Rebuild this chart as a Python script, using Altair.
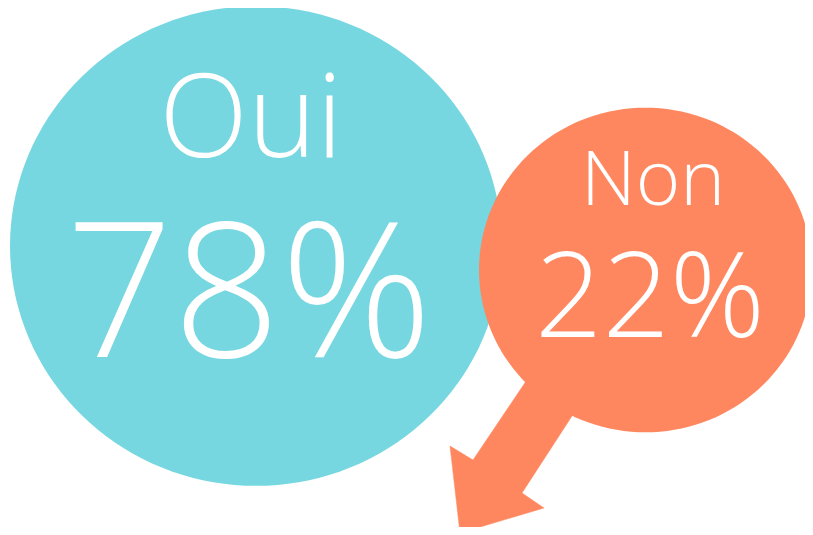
import math
import altair as alt
import pandas as pd

# ---- data ----
categories = ["Oui", "Non"]
values = [78, 22]
colors = ["#76D7E0", "#FF8760"]

# ---- layout (page pixel coordinates) ----
cx = [256, 645.5]
cy = [246, 270]
radius_x = [246, 166.5]
label_y = [157, 205]
label_x = [251, 653]
label_size = [116, 76]
pct_y = [357, 337]
pct_x = [249, 650]
pct_size = [188, 118]

arrow_x = [551, 473, 450, 460, 544, 522, 598, 551]
arrow_y = [344, 460, 446, 533, 508, 493, 376, 344]

# chart fits exactly inside the 813x535 window with its 8px margin
W, H = 797, 519
FONT = "Open Sans"

# slightly flattened ellipse symbol path (unit box), built as a polygon
K = 0.975
N = 144
pts = [(math.cos(2 * math.pi * i / N), K * math.sin(2 * math.pi * i / N)) for i in range(N)]
ELLIPSE = "M" + "L".join(f"{x:.4f},{y:.4f}" for x, y in pts) + "Z"

df = pd.DataFrame({
    "cat": categories,
    "val": values,
    "color": colors,
    "cx": cx,
    "cy": cy,
    "size": [(2 * r) ** 2 for r in radius_x],
    "lx": label_x,
    "ly": label_y,
    "lsize": label_size,
    "px": pct_x,
    "py": pct_y,
    "psize": pct_size,
})
df["pct"] = df["val"].astype(str) + "%"

arrow = pd.DataFrame({"x": arrow_x, "y": arrow_y, "o": list(range(len(arrow_x)))})

xs = alt.Scale(domain=[8, 8 + W], range=[0, W], nice=False, zero=False)
ys = alt.Scale(domain=[8, 8 + H], reverse=True, nice=False, zero=False)

base = alt.Chart(df)

circles = base.mark_point(shape=ELLIPSE, filled=True, opacity=1, strokeWidth=0).encode(
    x=alt.X("cx:Q", scale=xs, axis=None),
    y=alt.Y("cy:Q", scale=ys, axis=None),
    size=alt.Size("size:Q", scale=None, legend=None),
    color=alt.Color("color:N", scale=None, legend=None),
    order=alt.Order("val:Q", sort="descending"),
)

arrow_layer = alt.Chart(arrow).mark_line(
    fill=colors[1], stroke=colors[1], strokeWidth=0.5, interpolate="linear"
).encode(
    x=alt.X("x:Q", scale=xs, axis=None),
    y=alt.Y("y:Q", scale=ys, axis=None),
    order="o:Q",
)

labels = base.mark_text(
    color="white", font=FONT, fontWeight=300, baseline="alphabetic", align="center"
).encode(
    x=alt.X("lx:Q", scale=xs, axis=None),
    y=alt.Y("ly:Q", scale=ys, axis=None),
    text="cat:N",
    size=alt.Size("lsize:Q", scale=None, legend=None),
)

pcts = base.mark_text(
    color="white", font=FONT, fontWeight=300, baseline="alphabetic", align="center"
).encode(
    x=alt.X("px:Q", scale=xs, axis=None),
    y=alt.Y("py:Q", scale=ys, axis=None),
    text="pct:N",
    size=alt.Size("psize:Q", scale=None, legend=None),
)

chart = alt.layer(circles, arrow_layer, labels, pcts).properties(
    width=W, height=H, padding=0, autosize="none", background="white"
).configure_view(stroke=None)

chart.save("out.html", embed_options={"renderer": "svg", "actions": False})
